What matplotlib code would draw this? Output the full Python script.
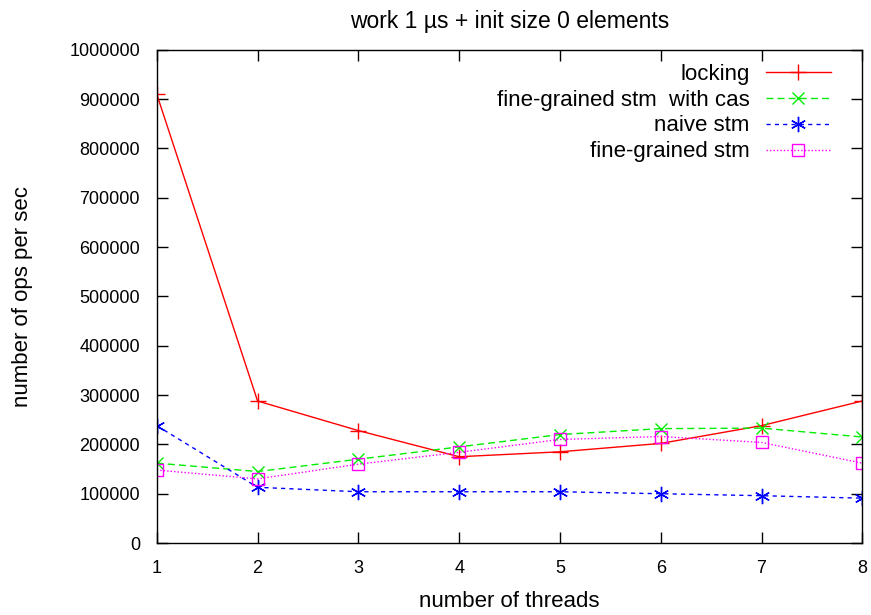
import matplotlib
matplotlib.use('Agg')
import matplotlib.pyplot as plt

plt.rcParams['font.family'] = ['Liberation Sans', 'DejaVu Sans']

threads = [1, 2, 3, 4, 5, 6, 7, 8]

locking = [910000, 288000, 228000, 175000, 185000, 202000, 238000, 288000]
fine_cas = [162000, 145000, 170000, 195000, 220000, 232000, 233000, 215000]
naive = [238000, 113000, 104000, 104000, 104000, 100000, 96000, 91000]
fine = [148000, 130000, 160000, 184000, 210000, 216000, 204000, 162000]

yticks = list(range(0, 1000001, 100000))

fig = plt.figure(figsize=(8.71, 6.15), dpi=100)
ax = fig.add_axes([0.180, 0.117, 0.810, 0.802])

ax.plot(threads, locking, color='#ff0000', lw=1, ls='-', marker='+',
        ms=12, mew=1, label='locking')
ax.plot(threads, fine_cas, color='#00ee00', lw=1, ls=(0, (5, 3)), marker='x',
        ms=9, mew=1, label='fine-grained stm  with cas')
ax.plot(threads, naive, color='#0000ff', lw=1, ls=(0, (3, 3)), marker=(6, 2, 0),
        ms=11, mew=1, label='naive stm')
ax.plot(threads, fine, color='#ff00ff', lw=1, ls=(0, (1, 1.5)), marker='s',
        ms=9, mew=1, mfc='none', label='fine-grained stm')

ax.set_xlim(1, 8)
ax.set_ylim(0, 1000000)
ax.set_xticks(threads)
ax.set_yticks(yticks)
ax.set_yticklabels([str(v) for v in yticks])

ax.tick_params(direction='in', length=8, width=1, top=True, right=True,
               labelsize=13)
ax.tick_params(axis='y', pad=12)
ax.tick_params(axis='x', pad=12)
for s in ax.spines.values():
    s.set_linewidth(1)

ax.set_title('work 1 \u00b5s + init size 0 elements', fontsize=16.5, pad=16)
ax.set_xlabel('number of threads', fontsize=16, labelpad=10)
ax.set_ylabel('number of ops per sec', fontsize=16, labelpad=26)

leg = ax.legend(loc='upper right', frameon=False, markerfirst=False,
                fontsize=16, handlelength=2.9, handletextpad=0.75,
                labelspacing=0.22, borderpad=0, borderaxespad=0,
                bbox_to_anchor=(0.955, 0.972))

fig.savefig('out.png', dpi=100)
